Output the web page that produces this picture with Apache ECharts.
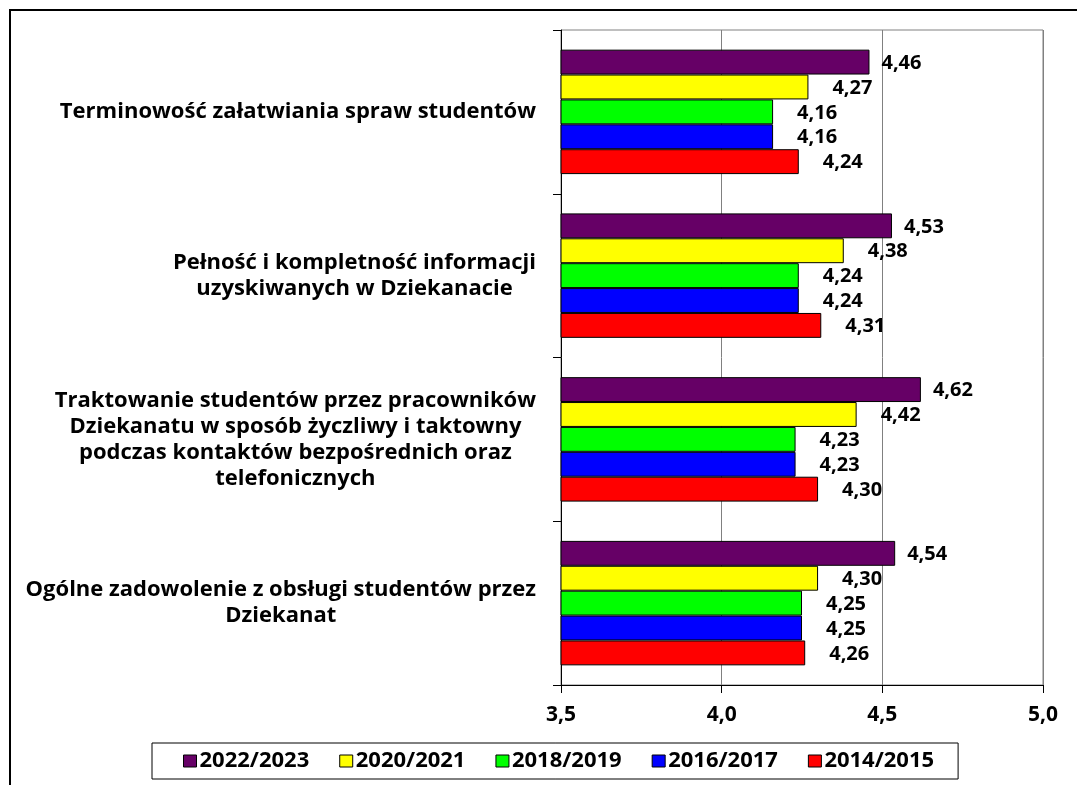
<!DOCTYPE html>
<html>
<head>
<meta charset="utf-8">
<script src="https://cdn.jsdelivr.net/npm/echarts@6/dist/echarts.min.js"></script>
<style>
  html, body { margin: 0; padding: 0; background: #fff; }
  #chart { width: 1077px; height: 785px; }
</style>
</head>
<body>
<div id="chart"></div>
<script>
const categories = [
  'Terminowość załatwiania spraw studentów',
  'Pełność i kompletność informacji\nuzyskiwanych w Dziekanacie',
  'Traktowanie studentów przez pracowników\nDziekanatu w sposób życzliwy i taktowny\npodczas kontaktów bezpośrednich oraz\ntelefonicznych',
  'Ogólne zadowolenie z obsługi studentów przez\nDziekanat'
]
const seriesNames = ['2022/2023', '2020/2021', '2018/2019', '2016/2017', '2014/2015']
const values2022 = [4.46, 4.53, 4.62, 4.54]
const values2020 = [4.27, 4.38, 4.42, 4.30]
const values2018 = [4.16, 4.24, 4.23, 4.25]
const values2016 = [4.16, 4.24, 4.23, 4.25]
const values2014 = [4.24, 4.31, 4.30, 4.26]
const xTicks = [3.5, 4.0, 4.5, 5.0]

const colors = ['#660066', '#ffff00', '#00ff00', '#0000ff', '#ff0000']
const allValues = [values2022, values2020, values2018, values2016, values2014]
const labelDistance = [12, 24, 24, 24, 24]
const font = 'Open Sans'

const chart = echarts.init(document.getElementById('chart'))

const series = seriesNames.map((name, i) => ({
  name: name,
  type: 'bar',
  data: allValues[i],
  barGap: '0%',
  barCategoryGap: '24%',
  itemStyle: { color: colors[i], borderColor: '#000', borderWidth: 1 },
  label: {
    show: true,
    position: 'right',
    distance: labelDistance[i],
    offset: [0, 1],
    color: '#000',
    fontFamily: font,
    fontWeight: 'bold',
    fontSize: 20,
    formatter: p => p.value.toFixed(2).replace('.', ',')
  }
}))

chart.setOption({
  animation: false,
  color: colors,
  graphic: [{
    type: 'rect',
    shape: { x: 10, y: 10, width: 1200, height: 900 },
    style: { fill: 'none', stroke: '#000', lineWidth: 2 },
    silent: true
  }],
  grid: {
    left: 561,
    right: 34,
    top: 30,
    bottom: 100,
    show: true,
    borderColor: '#808080',
    borderWidth: 1
  },
  legend: {
    bottom: 6,
    left: 152,
    itemWidth: 13,
    itemHeight: 12,
    itemGap: 30,
    padding: [7, 24, 7, 31],
    borderColor: '#000',
    borderWidth: 1,
    icon: 'rect',
    itemStyle: { borderColor: '#000', borderWidth: 1 },
    textStyle: { fontFamily: font, fontWeight: 'bold', fontSize: 22, color: '#000', padding: [0, 0, 0, -2] },
    data: seriesNames
  },
  xAxis: {
    type: 'value',
    min: xTicks[0],
    max: xTicks[xTicks.length - 1],
    interval: 0.5,
    axisLine: { show: true, lineStyle: { color: '#000', width: 1 } },
    axisTick: { show: true, length: 8, lineStyle: { color: '#000' } },
    splitLine: { show: true, lineStyle: { color: '#808080', width: 1 } },
    axisLabel: {
      color: '#000',
      fontFamily: font,
      fontWeight: 'bold',
      fontSize: 21,
      margin: 20,
      formatter: v => v.toFixed(1).replace('.', ',')
    }
  },
  yAxis: {
    type: 'category',
    data: categories,
    inverse: true,
    axisLine: { show: true, lineStyle: { color: '#000', width: 1 } },
    axisTick: { show: true, length: 8, lineStyle: { color: '#000' } },
    axisLabel: {
      margin: 25,
      align: 'right',
      lineHeight: 26,
      formatter: v => v.split('\n').map(s => '{c|' + s + '}').join('\n'),
      rich: {
        c: {
          align: 'center',
          color: '#000',
          fontFamily: font,
          fontWeight: 'bold',
          fontSize: 22,
          lineHeight: 26
        }
      }
    }
  },
  series: series
})
</script>
</body>
</html>
